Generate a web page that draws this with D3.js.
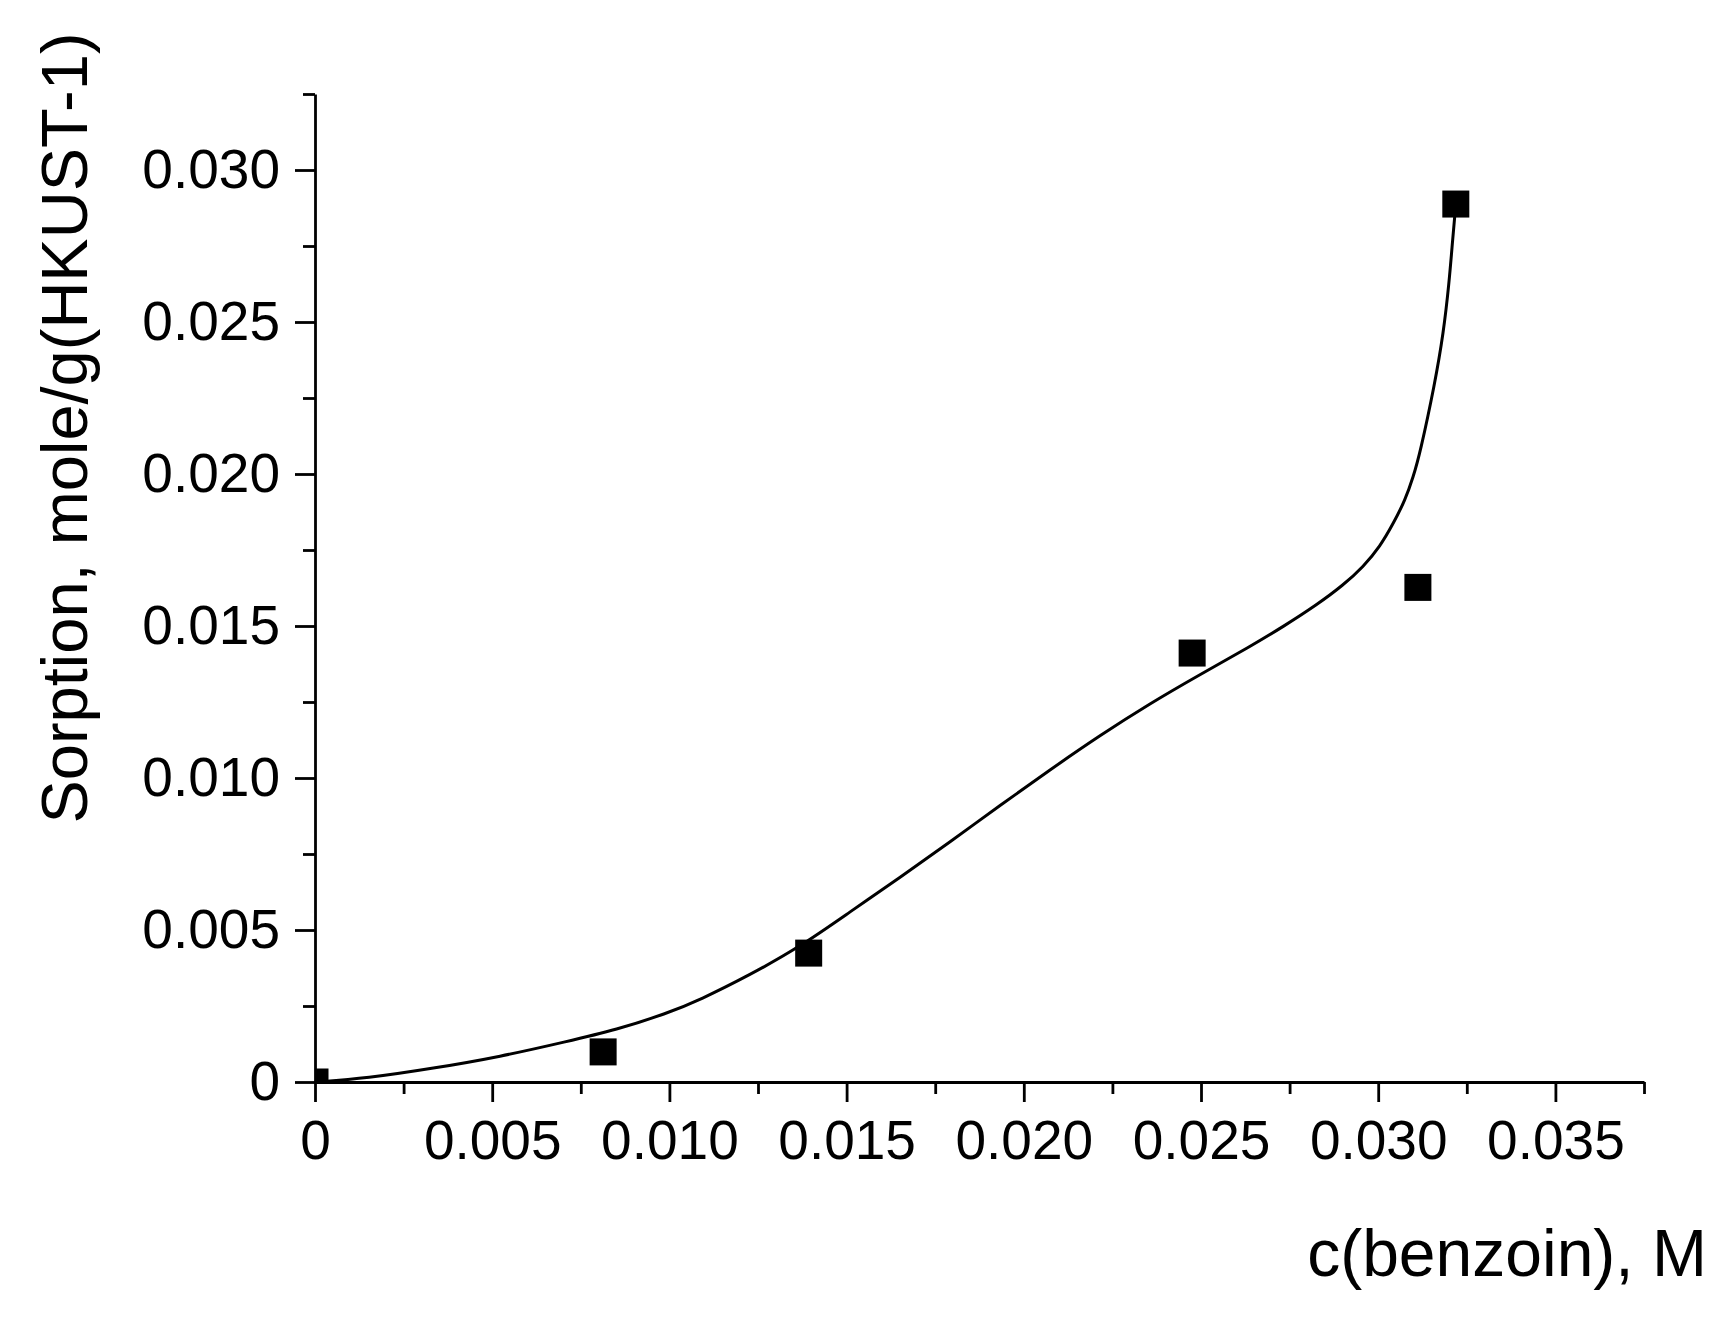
<!DOCTYPE html>
<html>
<head>
<meta charset="utf-8">
<script src="https://cdn.jsdelivr.net/npm/d3@7"></script>
<style>
  body { margin: 0; background: #fff; }
  svg text { font-family: "Liberation Sans", Arial, sans-serif; fill: #000; }
</style>
</head>
<body>
<svg id="svg" width="1732" height="1323"></svg>
<script>
// Measured points (benzoin concentration, M -> sorption, mole/g)
const concentration = [0, 0.00813, 0.01393, 0.02475, 0.03112, 0.03219];
const sorption = [0, 0.00099, 0.00424, 0.01411, 0.01627, 0.02888];

// Fitted curve
const fitX = [0, 0.00146, 0.00334, 0.00522, 0.0071, 0.00851, 0.00992, 0.01086, 0.01227,
  0.01369, 0.0151, 0.01651, 0.01792, 0.01933, 0.02074, 0.02215, 0.02356, 0.02497,
  0.02638, 0.02732, 0.02826, 0.02902, 0.02958, 0.03005, 0.03043, 0.03076, 0.03099,
  0.03118, 0.0316, 0.03184, 0.032, 0.0321, 0.03219];
const fitY = [0, 0.00012, 0.00045, 0.00083, 0.00133, 0.00172, 0.00225, 0.0027, 0.00352,
  0.00445, 0.0056, 0.00673, 0.0079, 0.0091, 0.01027, 0.0114, 0.01245, 0.0134,
  0.01432, 0.01498, 0.01569, 0.01635, 0.01695, 0.01761, 0.01838, 0.01914, 0.01991,
  0.02068, 0.02298, 0.02463, 0.02627, 0.0277, 0.02888];

// Axis ticks
const xMajor = [0, 0.005, 0.010, 0.015, 0.020, 0.025, 0.030, 0.035];
const xMinor = [0.0025, 0.0075, 0.0125, 0.0175, 0.0225, 0.0275, 0.0325, 0.0375];
const yMajor = [0, 0.005, 0.010, 0.015, 0.020, 0.025, 0.030];
const yMinor = [0.0025, 0.0075, 0.0125, 0.0175, 0.0225, 0.0275, 0.0325];

const plotLeft = 315, plotRight = 1644, plotTop = 94, plotBottom = 1082;

const x = d3.scaleLinear().domain([0, 0.0375]).range([plotLeft, plotRight]);
const y = d3.scaleLinear().domain([0, 0.0325]).range([plotBottom, plotTop]);

const svg = d3.select("#svg");
const fmt = v => v === 0 ? "0" : d3.format(".3f")(v);

svg.append("clipPath").attr("id", "plot")
  .append("rect")
  .attr("x", plotLeft).attr("y", plotTop)
  .attr("width", plotRight - plotLeft).attr("height", plotBottom - plotTop);

// fitted line (basis spline smooths out reading noise)
const line = d3.line()
  .x(d => x(d[0]))
  .y(d => y(d[1]))
  .curve(d3.curveBasis);

svg.append("path")
  .datum(d3.zip(fitX, fitY))
  .attr("fill", "none")
  .attr("stroke", "#000")
  .attr("stroke-width", 3)
  .attr("d", line);

// square markers
const sq = 27;
svg.append("g").attr("clip-path", "url(#plot)")
  .selectAll("rect")
  .data(d3.zip(concentration, sorption))
  .join("rect")
  .attr("x", d => x(d[0]) - sq / 2)
  .attr("y", d => y(d[1]) - sq / 2)
  .attr("width", sq)
  .attr("height", sq)
  .attr("fill", "#000");

// x axis
const xAxis = svg.append("g").attr("transform", `translate(0,${plotBottom})`)
  .call(d3.axisBottom(x).tickValues(xMajor).tickSize(20).tickSizeOuter(0).tickFormat(fmt).tickPadding(18));
xAxis.append("g")
  .call(d3.axisBottom(x).tickValues(xMinor).tickSize(12).tickSizeOuter(0).tickFormat(""))
  .select(".domain").remove();

// y axis
const yAxis = svg.append("g").attr("transform", `translate(${plotLeft},0)`)
  .call(d3.axisLeft(y).tickValues(yMajor).tickSize(20).tickSizeOuter(0).tickFormat(fmt).tickPadding(15));
yAxis.append("g")
  .call(d3.axisLeft(y).tickValues(yMinor).tickSize(12).tickSizeOuter(0).tickFormat(""))
  .select(".domain").remove();

svg.selectAll(".domain, .tick line")
  .attr("stroke", "#000")
  .attr("stroke-width", 2.8);
svg.selectAll(".tick text")
  .attr("font-size", 55)
  .attr("font-family", "Liberation Sans, Arial, sans-serif")
  .attr("fill", "#000");
xAxis.selectAll(".tick text").attr("dy", "0.71em");

// axis titles
svg.append("text")
  .attr("x", 1707).attr("y", 1276)
  .attr("text-anchor", "end")
  .attr("font-size", 66)
  .text("c(benzoin), M");

svg.append("text")
  .attr("transform", "translate(87,428) rotate(-90)")
  .attr("text-anchor", "middle")
  .attr("font-size", 65)
  .text("Sorption, mole/g(HKUST-1)");
</script>
</body>
</html>
